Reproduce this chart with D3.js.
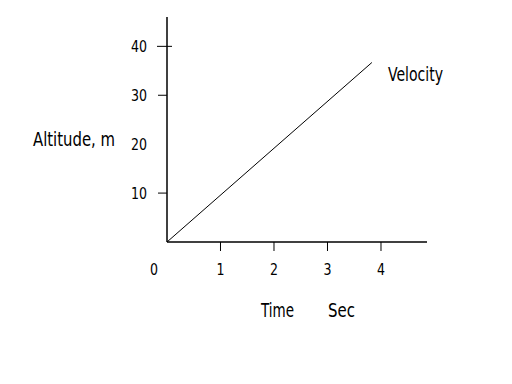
<!DOCTYPE html>
<html>
<head>
<meta charset="utf-8">
<script src="https://cdn.jsdelivr.net/npm/d3@7"></script>
<style>
  body { margin: 0; background: #fff; }
  text { font-family: "DejaVu Sans Condensed", "Liberation Sans Narrow", sans-serif; fill: #000; }
</style>
</head>
<body>
<svg id="chart" width="512" height="384"></svg>
<script>
// data
var yTicks = [10, 20, 30, 40];
var xTicks = [1, 2, 3, 4];
var velocity = [
  { t: 0, h: 0 },
  { t: 3.83, h: 36.7 }
];

var svg = d3.select('#chart');

var x = d3.scaleLinear().domain([0, 4.86]).range([167, 427]);
var y = d3.scaleLinear().domain([0, 46]).range([242, 17]);

// axis lines
svg.append('line')
  .attr('x1', x(0)).attr('x2', x(0))
  .attr('y1', y(0)).attr('y2', y(46))
  .attr('stroke', '#000').attr('stroke-width', 1.5);
svg.append('line')
  .attr('x1', x(0)).attr('x2', x(4.86))
  .attr('y1', y(0)).attr('y2', y(0))
  .attr('stroke', '#000').attr('stroke-width', 1.5);

// y ticks (the 20 tick is not drawn in the original)
svg.selectAll('.ytick')
  .data(yTicks.filter(d => d != 20))
  .enter()
  .append('line')
  .attr('class', 'ytick')
  .attr('x1', d => (d == 40 ? x(0) - 10 : x(0) - 9))
  .attr('x2', d => (d == 40 ? x(0) + 5 : x(0)))
  .attr('y1', d => y(d))
  .attr('y2', d => y(d))
  .attr('stroke', '#000')
  .attr('stroke-width', 1);

svg.selectAll('.ylab')
  .data(yTicks)
  .enter()
  .append('text')
  .attr('class', 'ylab')
  .attr('transform', d => 'translate(147,' + y(d) + ') scale(1,1.15)')
  .attr('dy', '0.36em')
  .attr('text-anchor', 'end')
  .style('font-size', '14px')
  .text(d => d);

// x ticks
svg.selectAll('.xtick')
  .data(xTicks)
  .enter()
  .append('line')
  .attr('class', 'xtick')
  .attr('x1', d => x(d)).attr('x2', d => x(d))
  .attr('y1', y(0)).attr('y2', y(0) + 9)
  .attr('stroke', '#000').attr('stroke-width', 1);

svg.selectAll('.xlab')
  .data([0].concat(xTicks))
  .enter()
  .append('text')
  .attr('class', 'xlab')
  .attr('transform', d => 'translate(' + (d == 0 ? x(0) - 13 : x(d)) + ',269) scale(1,1.15)')
  .attr('dy', '0.36em')
  .attr('text-anchor', 'middle')
  .style('font-size', '14px')
  .text(d => d);

// velocity line
var line = d3.line()
  .x(d => x(d.t))
  .y(d => y(d.h));

svg.append('path')
  .datum(velocity)
  .attr('d', line)
  .attr('fill', 'none')
  .attr('stroke', '#000')
  .attr('stroke-width', 1);

// labels
var labels = [
  { text: 'Altitude, m', x: 33, y: 146, w: 82 },
  { text: 'Time', x: 261, y: 317, w: 33 },
  { text: 'Sec', x: 328, y: 317, w: 27 },
  { text: 'Velocity', x: 388, y: 81, w: 55 }
];

svg.selectAll('.lab')
  .data(labels)
  .enter()
  .append('text')
  .attr('class', 'lab')
  .attr('transform', d => 'translate(' + d.x + ',' + d.y + ') scale(1,1.2)')
  .attr('textLength', d => d.w)
  .attr('lengthAdjust', 'spacingAndGlyphs')
  .style('font-size', '16px')
  .text(d => d.text);
</script>
</body>
</html>
